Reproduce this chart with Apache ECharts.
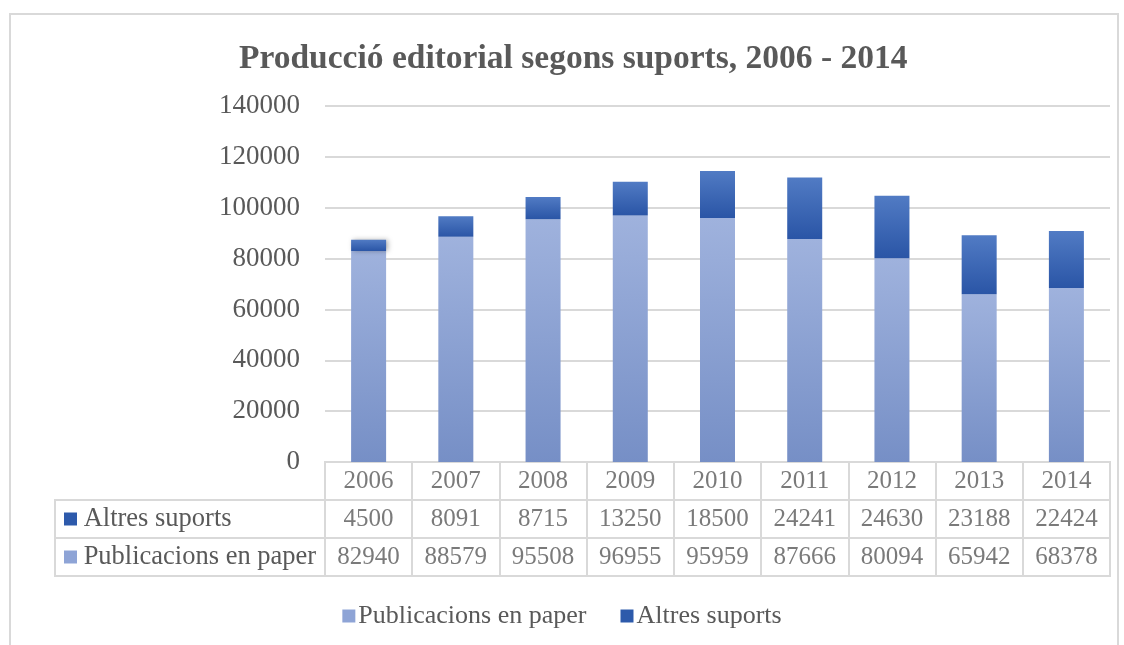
<!DOCTYPE html>
<html>
<head>
<meta charset="utf-8">
<script src="https://cdn.jsdelivr.net/npm/echarts@6/dist/echarts.min.js"></script>
<style>
  html, body {margin:0; padding:0; background:#fff;}
  #chart {width:1124px; height:645px;}
</style>
</head>
<body>
<div id="chart"></div>
<script>
var years = ['2006', '2007', '2008', '2009', '2010', '2011', '2012', '2013', '2014'];
var paper = [82940, 88579, 95508, 96955, 95959, 87666, 80094, 65942, 68378];
var altres = [4500, 8091, 8715, 13250, 18500, 24241, 24630, 23188, 22424];
var rows = ['header', 'Altres suports', 'Publicacions en paper'];

var txt = '#595959';
var line = '#d9d9d9';
var font = 'Liberation Serif';

// table cells: [column, row, text]
var cells = [];
years.forEach(function (y, i) {
    cells.push([i, 'header', y]);
    cells.push([i, 'Altres suports', altres[i]]);
    cells.push([i, 'Publicacions en paper', paper[i]]);
});

function grad(top, bottom) {
    return new echarts.graphic.LinearGradient(0, 0, 0, 1, [
        {offset: 0, color: top}, {offset: 1, color: bottom}
    ]);
}

var chart = echarts.init(document.getElementById('chart'));
var option = {
    backgroundColor: '#fff',
    textStyle: {fontFamily: font},
    title: {
        text: 'Producció editorial segons suports, 2006 - 2014',
        left: 234,
        top: 37,
        textStyle: {fontFamily: font, fontSize: 33.5, fontWeight: 'bold', color: txt}
    },
    legend: {
        bottom: 11,
        left: 'center',
        itemWidth: 13,
        itemHeight: 13,
        itemGap: 34,
        icon: 'rect',
        textStyle: {fontFamily: font, fontSize: 26, color: txt, padding: [0, 0, 0, -2]},
        data: [
            {name: 'Publicacions en paper', itemStyle: {color: '#8ea4d6'}},
            {name: 'Altres suports', itemStyle: {color: '#2d5aab'}}
        ]
    },
    graphic: [
        {type: 'rect', shape: {x: 10, y: 14, width: 1108, height: 660},
         style: {fill: 'none', stroke: line, lineWidth: 2}, silent: true},
        {type: 'rect', shape: {x: 55, y: 500, width: 270, height: 76},
         style: {fill: 'none', stroke: line, lineWidth: 2}, silent: true},
        {type: 'line', shape: {x1: 55, y1: 538, x2: 325, y2: 538},
         style: {stroke: line, lineWidth: 2}, silent: true}
    ],
    grid: [
        {left: 325, right: 14, top: 106, height: 356},
        {left: 325, right: 14, top: 462, height: 114, show: true, borderColor: line, borderWidth: 2}
    ],
    xAxis: [
        {type: 'category', data: years, gridIndex: 0,
         axisLine: {show: false}, axisTick: {show: false}, axisLabel: {show: false}},
        {type: 'category', data: years, gridIndex: 1,
         axisLine: {show: false}, axisTick: {show: false}, axisLabel: {show: false},
         splitLine: {show: true, interval: 0, lineStyle: {color: line, width: 2}}}
    ],
    yAxis: [
        {type: 'value', gridIndex: 0, min: 0, max: 140000, interval: 20000,
         axisLine: {show: false}, axisTick: {show: false},
         axisLabel: {fontFamily: font, fontSize: 27, color: txt, margin: 25,
                     formatter: function (v) { return String(v); }},
         splitLine: {lineStyle: {color: line, width: 2}}},
        {type: 'category', gridIndex: 1, data: rows, inverse: true,
         axisLine: {show: false}, axisTick: {show: false},
         splitLine: {show: true, interval: 0, lineStyle: {color: line, width: 2}},
         axisLabel: {
             align: 'left', margin: 261, fontFamily: font, fontSize: 26.5, color: txt,
             formatter: function (v) {
                 if (v === 'header') return '';
                 return (v === 'Altres suports' ? '{b|}' : '{a|}') + ' ' + v;
             },
             rich: {
                 a: {width: 13, height: 13, backgroundColor: '#8ea4d6'},
                 b: {width: 13, height: 13, backgroundColor: '#2d5aab'}
             }
         }}
    ],
    series: [
        {name: 'Publicacions en paper', type: 'bar', stack: 'total', data: paper,
         barWidth: 35,
         itemStyle: {color: grad('#9fb2dd', '#768fc6'), shadowBlur: 5,
                     shadowColor: 'rgba(0,0,0,0.3)', shadowOffsetX: 2}},
        {name: 'Altres suports', type: 'bar', stack: 'total', data: altres,
         barWidth: 35,
         itemStyle: {color: grad('#517bc4', '#2a55a6'), shadowBlur: 5,
                     shadowColor: 'rgba(0,0,0,0.3)', shadowOffsetX: 2}},
        {type: 'scatter', xAxisIndex: 1, yAxisIndex: 1, data: cells,
         symbolSize: 0, silent: true,
         label: {show: true, position: 'inside', fontFamily: font, fontSize: 25, color: txt,
                 formatter: function (p) { return String(p.value[2]); }}}
    ]
};
chart.setOption(option);
</script>
</body>
</html>
